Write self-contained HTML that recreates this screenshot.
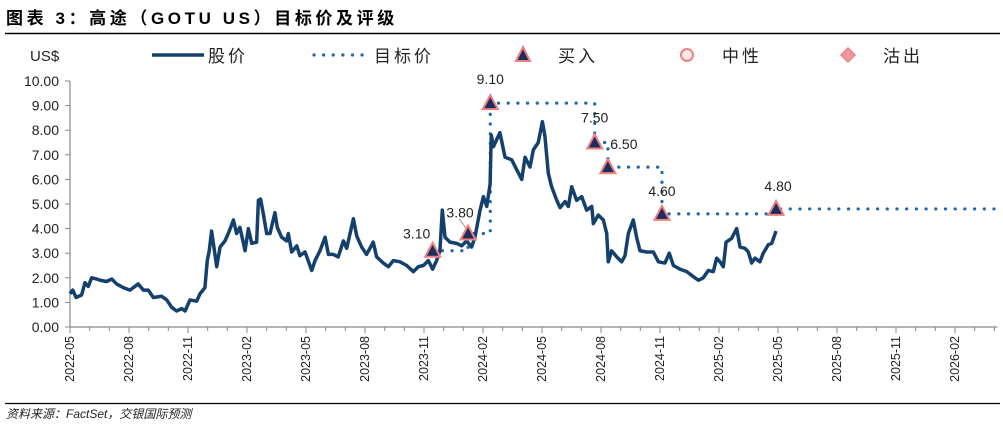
<!DOCTYPE html>
<html><head><meta charset="utf-8">
<style>
body{margin:0;background:#fff;width:1003px;height:426px;overflow:hidden;font-family:"Liberation Sans","Noto Sans CJK SC",sans-serif;}
svg{position:absolute;left:0;top:0}
</style></head>
<body>
<svg id="chart" width="1003" height="426">
<text x="6" y="24" font-size="17" font-weight="bold" letter-spacing="3.6" fill="#000" font-family="Liberation Sans,Noto Sans CJK SC,sans-serif">图表 3：高途（GOTU US）目标价及评级</text>
<line x1="5" y1="33.5" x2="1000" y2="33.5" stroke="#000" stroke-width="1.5"/>
<text x="30" y="61" font-size="15" fill="#222">US$</text>
<g>
 <g><line x1="152" y1="55" x2="204" y2="55" stroke="#14406e" stroke-width="3.5"/><text x="208" y="62" font-size="17" letter-spacing="3" fill="#222">股价</text></g>
 <g><line x1="314" y1="55" x2="368" y2="55" stroke="#1f66b0" stroke-width="3.2" stroke-dasharray="0.1 9.5" stroke-linecap="round"/><text x="374" y="62" font-size="17" letter-spacing="3" fill="#222">目标价</text></g>
 <g><polygon points="523,47 516,61 530,61" fill="#1a2f5e" stroke="#f08080" stroke-width="2"/><text x="558" y="62" font-size="17" letter-spacing="3" fill="#222">买入</text></g>
 <g><circle cx="687" cy="55" r="6" fill="#fde8e8" stroke="#f08080" stroke-width="2"/><text x="722" y="62" font-size="17" letter-spacing="3" fill="#222">中性</text></g>
 <g><polygon points="848,48 855,55 848,62 841,55" fill="#e89aa0" stroke="#f08080" stroke-width="1.5"/><text x="883" y="62" font-size="17" letter-spacing="3" fill="#222">沽出</text></g>
</g>
<g id="axes"></g>
<g id="series"></g>
<line x1="5" y1="403.5" x2="1000" y2="403.5" stroke="#000" stroke-width="1.2"/>
<text x="6" y="418" font-size="12" font-style="italic" fill="#222">资料来源：FactSet，交银国际预测</text>
</svg>
<script>
const yTicks=[0,1,2,3,4,5,6,7,8,9,10];
const xTickLabels=["2022-05","2022-08","2022-11","2023-02","2023-05","2023-08","2023-11","2024-02","2024-05","2024-08","2024-11","2025-02","2025-05","2025-08","2025-11","2026-02"];
// months since 2022-05
const priceMonths=[0,.14,.31,.59,.76,.93,1.10,1.36,1.53,1.86,2.12,2.37,2.71,3.05,3.47,3.73,3.98,4.24,4.66,4.92,5.17,5.42,5.68,5.85,6.10,6.44,6.61,6.86,6.98,7.08,7.20,7.29,7.46,7.63,7.88,8.05,8.31,8.47,8.64,8.90,9.07,9.24,9.49,9.58,9.69,9.83,10.0,10.17,10.42,10.54,10.76,11.02,11.10,11.27,11.53,11.69,11.95,12.29,12.46,12.71,12.97,13.14,13.39,13.64,13.90,14.07,14.41,14.58,14.83,15.08,15.42,15.59,15.93,16.19,16.44,16.78,17.12,17.46,17.71,17.97,18.22,18.44,18.64,18.81,18.93,19.07,19.32,19.66,19.92,20.17,20.42,20.59,20.85,21.02,21.19,21.36,21.42,21.53,21.86,22.12,22.46,22.71,22.97,23.14,23.39,23.56,23.81,24.02,24.15,24.32,24.49,24.75,24.92,25.17,25.34,25.51,25.76,26.02,26.27,26.53,26.61,26.86,27.12,27.29,27.37,27.54,27.80,28.05,28.22,28.39,28.64,28.81,28.98,29.32,29.66,29.92,30.25,30.47,30.68,31.02,31.36,31.69,31.95,32.20,32.46,32.71,32.88,33.05,33.22,33.36,33.64,33.90,34.07,34.32,34.49,34.66,34.83,35.08,35.25,35.51,35.68,35.90];
const priceValues=[1.35,1.5,1.2,1.3,1.8,1.65,2.0,1.95,1.9,1.85,1.95,1.75,1.6,1.5,1.75,1.5,1.5,1.2,1.25,1.1,0.8,0.65,0.75,0.65,1.1,1.05,1.35,1.6,2.7,3.1,3.9,3.4,2.45,3.25,3.5,3.8,4.35,3.8,4.05,3.1,4.0,3.4,3.45,5.15,5.2,4.6,3.8,3.8,4.65,4.05,3.65,3.5,3.8,3.05,3.3,2.9,3.05,2.3,2.7,3.1,3.65,2.95,2.95,2.85,3.5,3.2,4.4,3.7,3.25,2.95,3.45,2.85,2.6,2.45,2.7,2.65,2.5,2.25,2.45,2.5,2.7,2.35,2.7,3.1,4.75,3.65,3.45,3.4,3.3,3.5,3.25,3.65,4.75,5.3,4.9,5.8,7.8,7.33,7.9,6.9,6.8,6.4,6.0,6.9,6.5,7.2,7.5,8.35,7.75,6.25,5.7,5.15,4.85,5.1,4.9,5.7,5.15,5.3,4.75,4.9,4.2,4.55,4.35,3.8,2.65,3.1,2.85,2.65,2.9,3.8,4.35,3.65,3.1,3.05,3.05,2.65,2.6,3.0,2.5,2.35,2.25,2.05,1.9,2.0,2.3,2.25,2.8,2.65,2.45,3.45,3.6,4.0,3.25,3.2,3.05,2.6,2.8,2.65,3.0,3.35,3.4,3.9];
const ratingMonths=[18.44,20.24,21.37,26.68,27.35,30.1,35.9];
const targetValues=[3.10,3.80,9.10,7.50,6.50,4.60,4.80];
const targetLabels=["3.10","3.80","9.10","7.50","6.50","4.60","4.80"];
const endMonth=47.15;

const NS="http://www.w3.org/2000/svg";
const X0=70,PXM=59/3,Y0=327,PXU=24.6;
const xs=m=>X0+m*PXM, ys=v=>Y0-v*PXU;
function mk(tag,attrs,parent){const e=document.createElementNS(NS,tag);for(const k in attrs)e.setAttribute(k,attrs[k]);parent.appendChild(e);return e;}
const axes=document.getElementById('axes'),ser=document.getElementById('series');

const yAxis=mk('line',{x1:X0,y1:ys(10),x2:X0,y2:Y0,stroke:'#888','stroke-width':1.2},axes);


yTicks.forEach(t=>{
 mk('line',{x1:X0-5,y1:ys(t),x2:X0,y2:ys(t),stroke:'#888'},axes);
 const tx=mk('text',{x:X0-11,y:ys(t)+5,'font-size':14,'text-anchor':'end',fill:'#222'},axes);
 tx.textContent=t.toFixed(2);
 
 
});
const xAxis=mk('line',{x1:X0,y1:Y0,x2:xs(endMonth),y2:Y0,stroke:'#888','stroke-width':1.2},axes);


for(let m=0;m<=47;m++){mk('line',{x1:xs(m),y1:Y0,x2:xs(m),y2:Y0+(m%3===0?6:4),stroke:'#888'},axes);}
xTickLabels.forEach((l,i)=>{
 const x=xs(i*3)+4;
 const tx=mk('text',{x:x,y:Y0+9,'font-size':12.5,'text-anchor':'end',fill:'#222',transform:`rotate(-90 ${x} ${Y0+9})`},axes);
 tx.textContent=l;
 
 
});

let pts=[];
for(let i=0;i<targetValues.length;i++){
 const a=ratingMonths[i],b=i+1<ratingMonths.length?ratingMonths[i+1]:endMonth;
 if(i>0)pts.push([xs(a),ys(targetValues[i-1])]);
 pts.push([xs(a),ys(targetValues[i])]);
 pts.push([xs(b),ys(targetValues[i])]);
}
const tl=mk('polyline',{points:pts.map(p=>p.join(',')).join(' '),fill:'none',stroke:'#1f66b0','stroke-width':3.2,'stroke-dasharray':'0.1 9.6','stroke-linecap':'round'},ser);



const pl=mk('polyline',{points:priceMonths.map((m,i)=>xs(m)+','+ys(priceValues[i])).join(' '),fill:'none',stroke:'#14406e','stroke-width':3.5,'stroke-linejoin':'round'},ser);



const leader=mk('line',{x1:xs(ratingMonths[1])-9,y1:ys(targetValues[1])-15,x2:xs(ratingMonths[1])-1,y2:ys(targetValues[1])-4,stroke:'#999','stroke-width':1},ser);



const labOff=[[-16,-12],[-8,-16],[0,-19],[0,-20],[16,-18],[0,-18],[2,-18]];
ratingMonths.forEach((m,i)=>{
 const x=xs(m),y=ys(targetValues[i]);
 const tri=mk('polygon',{points:`${x},${y-8} ${x-7.5},${y+6} ${x+7.5},${y+6}`,fill:'#1a2f5e',stroke:'#f08080','stroke-width':2},ser);
 
 
 const t=mk('text',{x:x+labOff[i][0],y:y+labOff[i][1],'font-size':14,'text-anchor':'middle',fill:'#222'},ser);
 t.textContent=targetLabels[i];
 
 
});
</script>
</body></html>
